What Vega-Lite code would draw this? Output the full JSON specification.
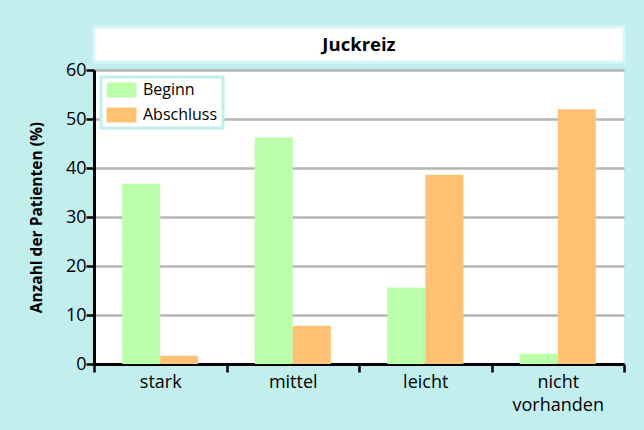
{
  "$schema": "https://vega.github.io/schema/vega-lite/v6.json",
  "autosize": {"type": "pad"},
  "padding": {"left": 29, "top": 25, "right": 24, "bottom": 22},
  "background": "#c3eeee",
  "bounds": "flush",
  "spacing": 8,
  "config": {
    "font": "Open Sans",
    "view": {"stroke": null}
  },
  "vconcat": [
    {
      "width": 530,
      "height": 35,
      "view": {"fill": "white", "stroke": "#d8f6f6", "strokeWidth": 3},
      "data": {"values": [{"t": "Juckreiz"}]},
      "mark": {"type": "text", "fontWeight": "bold", "fontSize": 18.5, "font": "Open Sans", "color": "black", "align": "center", "baseline": "middle"},
      "encoding": {"text": {"field": "t"}}
    },
    {
      "width": 530,
      "height": 294,
      "view": {"fill": "white", "stroke": null},
      "data": {
        "values": [
          {"kategorie": "stark", "zeitpunkt": "Beginn", "wert": 36.8},
          {"kategorie": "stark", "zeitpunkt": "Abschluss", "wert": 1.7},
          {"kategorie": "mittel", "zeitpunkt": "Beginn", "wert": 46.3},
          {"kategorie": "mittel", "zeitpunkt": "Abschluss", "wert": 7.8},
          {"kategorie": "leicht", "zeitpunkt": "Beginn", "wert": 15.6},
          {"kategorie": "leicht", "zeitpunkt": "Abschluss", "wert": 38.6},
          {"kategorie": "nicht vorhanden", "zeitpunkt": "Beginn", "wert": 2.1},
          {"kategorie": "nicht vorhanden", "zeitpunkt": "Abschluss", "wert": 52.0}
        ]
      },
      "mark": {"type": "bar"},
      "encoding": {
        "x": {
          "field": "kategorie",
          "type": "nominal",
          "sort": ["stark", "mittel", "leicht", "nicht vorhanden"],
          "scale": {"paddingInner": 0, "paddingOuter": 0},
          "axis": {
            "title": null,
            "labelAngle": 0,
            "labelFontSize": 18,
            "labelColor": "black",
            "labelPadding": 1,
            "labelExpr": "datum.label == 'nicht vorhanden' ? ['nicht', 'vorhanden'] : datum.label",
            "labelLineHeight": 23,
            "tickBand": "extent",
            "tickSize": 8,
            "tickWidth": 2.5,
            "tickColor": "black",
            "domainColor": "black",
            "domainWidth": 3,
            "grid": false
          }
        },
        "xOffset": {
          "field": "zeitpunkt",
          "type": "nominal",
          "sort": ["Beginn", "Abschluss"],
          "scale": {"paddingInner": 0, "paddingOuter": 0.74}
        },
        "y": {
          "field": "wert",
          "type": "quantitative",
          "scale": {"domain": [0, 60], "nice": false},
          "axis": {
            "title": "Anzahl der Patienten (%)",
            "titleFontSize": 15.5,
            "titleFontWeight": "bold",
            "titleColor": "black",
            "titlePadding": 21,
            "values": [0, 10, 20, 30, 40, 50, 60],
            "labelFontSize": 18,
            "labelColor": "black",
            "labelPadding": 0,
            "tickSize": 8,
            "tickWidth": 2.5,
            "tickColor": "black",
            "domainColor": "black",
            "domainWidth": 3,
            "grid": true,
            "gridColor": "#b5b5b5",
            "gridWidth": 2.5
          }
        },
        "color": {
          "field": "zeitpunkt",
          "type": "nominal",
          "sort": ["Beginn", "Abschluss"],
          "scale": {"domain": ["Beginn", "Abschluss"], "range": ["#bbffaa", "#ffc274"]},
          "legend": {
            "title": null,
            "orient": "none",
            "legendX": 7,
            "legendY": 50,
            "fillColor": "white",
            "strokeColor": "#c3eeee",
            "padding": 5,
            "symbolType": "M-1,-1H3V1H-1Z",
            "symbolSize": 225,
            "symbolStrokeWidth": 0,
            "symbolOpacity": 1,
            "labelFontSize": 16,
            "labelColor": "black",
            "labelOffset": 21,
            "rowPadding": 9,
            "encode": {"legend": {"update": {"strokeWidth": {"value": 3}}}}
          }
        }
      }
    }
  ]
}
